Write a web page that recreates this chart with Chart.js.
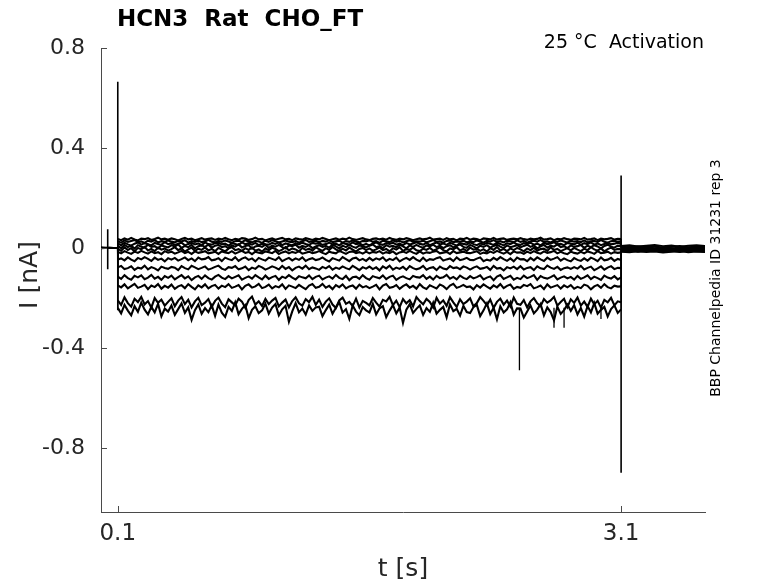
<!DOCTYPE html>
<html><head><meta charset="utf-8">
<script src="https://cdn.jsdelivr.net/npm/chart.js@4.4.1/dist/chart.umd.min.js"></script>
<style>html,body{margin:0;padding:0;background:#fff}canvas{display:block}</style>
</head><body>
<canvas id="c" width="778" height="583" style="width:778px;height:583px"></canvas>
<script>
const titleText = 'HCN3  Rat  CHO_FT';
const conditionText = '25 °C  Activation';
const sideText = 'BBP Channelpedia ID 31231 rep 3';
const xLabel = 't [s]';
const yLabel = 'I [nA]';
const xTicks = [0.1, 3.1];
const yTicks = [0.8, 0.4, 0, -0.4, -0.8];
const xRange = [0, 3.6];
const yRange = [-1.057, 0.8];

// sampling grids (seconds)
const preTimes = [0, 0.05, 0.099];
const pulseStart = 0.1, pulseStep = 0.02;
const tailStart = 3.1, tailStep = 0.05;
const PA_PER_NA = 1000; // traces below are stored in pA

// holding current before the step (pA)
const pre1 = [3,1,2], pre2 = [1,2,0], pre3 = [0,-1,1], pre4 = [-1,0,-2];
const pre5 = [2,0,1], pre6 = [-2,-1,0], pre7 = [1,-2,-1], pre8 = [0,1,-1];
const pre9 = [-1,2,0], pre10 = [2,-1,1], pre11 = [-3,-1,-2], pre12 = [1,0,-1];

// currents during the 3 s step (pA)
const trace1 = [36,31,38,33,40,34,30,37,35,39,32,36,41,34,37,
33,38,35,30,36,40,34,37,31,35,39,33,36,38,32,
37,34,40,35,31,36,33,39,37,32,35,41,34,36,30,
35,38,33,37,40,34,36,31,38,35,33,39,36,32,37,
34,40,36,31,35,38,33,37,34,41,35,32,36,39,34,
31,36,38,34,37,33,40,35,32,37,34,39,36,31,35,
38,34,36,41,33,35,37,32,39,34,36,30,37,35,40,
33,37,35,31,38,36,34,40,33,36,38,32,35,37,34,
39,35,32,37,34,36,41,33,35,38,31,36,34,39,35,
32,37,36,34,40,33,35,38,31,37,34,36,39,33,36,35];
const trace2 = [27,21,30,24,28,32,23,26,20,29,25,31,22,27,24,
30,25,22,28,26,31,21,27,24,29,23,26,32,25,22,
28,24,30,26,21,27,29,23,31,25,22,28,26,20,29,
24,31,27,22,26,30,25,23,28,21,27,32,24,26,29,
22,28,25,31,23,26,29,21,27,24,30,25,22,28,26,
31,24,27,20,29,26,23,30,25,28,22,27,31,24,26,
25,29,22,27,32,24,26,21,28,30,23,26,25,29,22,
27,23,30,26,21,28,25,31,24,27,22,29,26,23,30,
24,28,21,27,29,25,32,23,26,22,28,24,30,26,21,
29,25,27,23,30,22,26,28,24,31,25,21,27,29,24,26];
const trace3 = [18,11,21,14,9,17,22,13,19,15,10,20,16,12,23,
15,19,12,17,21,10,16,20,14,18,11,22,15,13,19,
21,14,17,9,19,16,12,22,15,18,13,20,11,17,14,
13,20,16,22,11,18,15,10,19,14,21,16,12,20,17,
19,12,15,21,14,17,10,20,16,13,22,15,18,11,16,
10,18,22,15,12,19,16,21,13,17,11,20,14,18,23,
16,13,20,11,17,22,14,18,12,21,15,9,19,16,13,
22,15,11,18,14,20,17,12,21,16,10,19,15,22,14,
12,19,16,21,13,17,10,20,15,18,23,14,16,11,20,
17,14,21,12,19,15,22,13,18,11,16,20,14,17,21,15];
const trace4 = [8,-1,12,3,9,-3,11,5,1,13,4,7,-2,10,6,
2,11,5,14,0,8,3,12,-2,7,10,4,13,1,9,
12,3,7,-1,10,5,14,2,8,11,-3,6,9,4,13,
0,9,5,12,3,-2,10,7,13,1,8,4,11,-1,6,
11,4,8,1,13,6,-3,9,3,12,5,0,10,7,2,
9,14,3,7,-1,11,5,8,2,13,6,-2,10,4,12,
5,1,10,6,13,3,9,-1,7,11,2,8,14,4,0,
12,6,-2,9,4,11,1,8,13,5,-1,10,3,7,11,
2,8,13,4,10,-2,6,12,1,9,5,14,3,7,-1,
10,4,7,12,0,9,3,11,6,-2,8,13,5,1,9,6];
const trace5 = [-3,-12,2,-8,-1,-14,0,-6,4,-10,-4,-13,1,-7,-2,
-11,-5,3,-9,-2,-15,-6,1,-12,-3,-8,2,-10,-4,-13,
0,-7,-14,-3,3,-9,-5,-12,-1,-8,2,-11,-6,-15,-2,
-9,1,-4,-13,-7,3,-10,-2,-6,-14,0,-8,-3,-11,2,
-5,-12,-1,-8,4,-6,-13,-3,-10,1,-7,-15,-4,0,-9,
-2,-11,-6,2,-9,-4,-14,-1,-7,3,-12,-5,-8,1,-10,
-13,-3,-8,0,-11,-5,2,-9,-14,-2,-6,3,-10,-4,-12,
1,-7,-3,-12,-5,-15,-1,-8,4,-10,-4,-13,-2,-9,0,
-6,-14,-2,-9,1,-11,-5,-3,-12,2,-8,-4,-13,-7,-1,
-10,0,-7,-13,-3,-9,3,-6,-11,-2,-14,-5,1,-8,-4,-6];
const trace6 = [-16,-22,-13,-19,-24,-15,-20,-12,-18,-23,-14,-21,-17,-25,-13,
-19,-15,-23,-18,-12,-21,-16,-24,-14,-20,-17,-13,-22,-19,-15,
-24,-14,-18,-21,-13,-23,-17,-12,-20,-16,-25,-15,-19,-22,-14,
-17,-21,-12,-24,-18,-14,-22,-16,-20,-13,-23,-19,-15,-21,-18,
-13,-20,-25,-15,-19,-22,-12,-18,-24,-16,-14,-21,-17,-23,-15,
-22,-16,-19,-13,-23,-17,-21,-14,-25,-18,-15,-20,-12,-19,-24,
-14,-23,-18,-20,-15,-12,-22,-19,-16,-24,-13,-21,-18,-15,-20,
-21,-17,-13,-24,-19,-22,-15,-20,-12,-18,-23,-16,-25,-14,-19,
-18,-24,-15,-21,-13,-19,-23,-14,-20,-17,-12,-22,-16,-21,-25,
-15,-20,-23,-16,-22,-14,-18,-24,-13,-21,-19,-15,-23,-17,-20,-18];
const trace7 = [-46,-42,-50,-38,-47,-53,-40,-46,-37,-44,-52,-39,-48,-43,-54,-41,
-47,-40,-51,-45,-38,-49,-42,-53,-39,-46,-44,-37,-50,-47,-41,
-53,-39,-45,-49,-37,-52,-43,-38,-48,-42,-54,-40,-46,-51,-39,
-44,-49,-37,-53,-46,-40,-50,-42,-48,-38,-52,-45,-41,-49,-46,
-38,-48,-54,-41,-46,-51,-37,-45,-53,-42,-39,-50,-44,-52,-40,
-50,-42,-47,-38,-52,-44,-49,-39,-54,-46,-40,-48,-37,-47,-53,
-39,-52,-45,-48,-41,-37,-51,-46,-42,-53,-38,-49,-45,-40,-48,
-49,-43,-38,-53,-47,-51,-40,-48,-37,-45,-52,-42,-54,-39,-46,
-45,-53,-40,-50,-38,-46,-52,-39,-48,-43,-37,-51,-42,-49,-54,
-41,-48,-52,-42,-51,-39,-45,-53,-38,-50,-47,-40,-52,-44,-48];
const trace8 = [-78,-72,-85,-81,-74,-88,-79,-83,-71,-86,-77,-82,-90,-75,-80,
-84,-76,-79,-89,-73,-81,-86,-72,-78,-85,-80,-74,-87,-82,-76,
-71,-83,-88,-77,-80,-73,-86,-82,-75,-89,-79,-84,-72,-78,-87,
-81,-74,-79,-86,-72,-84,-77,-90,-80,-75,-83,-71,-85,-78,-82,
-88,-76,-82,-73,-87,-79,-84,-74,-81,-86,-72,-80,-89,-77,-83,
-75,-85,-78,-90,-74,-82,-71,-87,-79,-84,-76,-88,-73,-81,-86,
-82,-72,-87,-80,-77,-89,-75,-83,-86,-73,-81,-78,-85,-74,-79,
-87,-79,-74,-84,-81,-76,-88,-72,-83,-80,-90,-77,-82,-75,-85,
-73,-86,-80,-77,-89,-74,-82,-85,-71,-79,-84,-76,-88,-81,-78,
-84,-77,-83,-72,-86,-80,-75,-89,-82,-74,-87,-79,-73,-85,-80,-81];
const trace9 = [-115,-124,-109,-121,-127,-112,-118,-110,-125,-119,-108,-123,-116,-128,-113,
-120,-111,-126,-117,-109,-122,-114,-129,-118,-112,-124,-110,-121,-127,-115,
-108,-119,-125,-113,-122,-116,-110,-127,-120,-114,-123,-109,-118,-126,-111,
-124,-117,-112,-128,-115,-121,-109,-119,-126,-113,-118,-122,-110,-125,-116,
-111,-126,-119,-114,-123,-108,-120,-125,-112,-129,-117,-115,-124,-109,-121,
-127,-113,-118,-122,-110,-125,-116,-111,-128,-119,-114,-121,-126,-112,-117,
-119,-109,-124,-115,-127,-112,-121,-118,-108,-123,-116,-126,-111,-120,-125,
-113,-122,-117,-110,-126,-119,-114,-129,-115,-109,-124,-118,-112,-127,-120,
-125,-111,-121,-116,-109,-128,-113,-120,-123,-117,-110,-126,-119,-114,-122,
-116,-127,-112,-124,-118,-110,-125,-115,-121,-128,-111,-119,-123,-113,-126,-118];
const trace10 = [-150,-158,-146,-162,-153,-144,-160,-155,-148,-165,-151,-157,-145,-163,-152,
-159,-147,-164,-154,-149,-161,-145,-156,-166,-150,-158,-146,-162,-153,-148,
-163,-151,-157,-145,-160,-155,-149,-166,-152,-146,-159,-154,-144,-161,-156,
-147,-162,-153,-158,-146,-164,-150,-155,-161,-148,-157,-165,-151,-145,-160,
-156,-144,-159,-152,-165,-149,-157,-146,-162,-154,-150,-163,-147,-158,-153,
-161,-155,-148,-166,-151,-145,-160,-157,-149,-164,-153,-146,-159,-152,-163,
-145,-158,-164,-150,-156,-162,-147,-153,-165,-151,-144,-160,-155,-148,-157,
-154,-166,-149,-159,-146,-155,-163,-150,-158,-145,-161,-152,-147,-164,-156,
-160,-148,-153,-145,-162,-157,-151,-165,-146,-159,-154,-149,-163,-150,-158,
-149,-163,-156,-161,-147,-152,-166,-154,-148,-160,-145,-157,-162,-151,-155,-154];
const trace11 = [-210,-228,-198,-221,-235,-204,-217,-196,-226,-213,-239,-201,-220,-207,-231,
-216,-202,-233,-211,-197,-225,-208,-238,-214,-200,-229,-219,-205,-236,-212,
-199,-223,-237,-206,-218,-230,-203,-215,-240,-209,-195,-227,-214,-232,-204,
-225,-211,-200,-234,-219,-207,-238,-213,-198,-222,-231,-205,-217,-196,-228,
-207,-236,-215,-202,-227,-240,-210,-199,-224,-216,-233,-203,-238,-212,-220,
-230,-201,-219,-235,-208,-214,-196,-229,-211,-237,-205,-222,-209,-234,-197,
-213,-226,-204,-216,-239,-200,-223,-210,-232,-198,-218,-236,-206,-225,-215,
-202,-234,-221,-197,-212,-229,-207,-240,-216,-203,-227,-211,-235,-199,-224,
-228,-209,-238,-214,-201,-222,-233,-205,-219,-210,-196,-231,-217,-204,-237,
-206,-220,-199,-231,-215,-236,-203,-226,-212,-239,-208,-218,-200,-230,-214,-218];
const trace12 = [-240,-262,-228,-251,-270,-233,-256,-219,-247,-266,-236,-258,-224,-274,-243,
-255,-231,-268,-245,-222,-260,-238,-288,-249,-226,-264,-241,-257,-230,-272,
-227,-259,-276,-236,-252,-218,-265,-244,-229,-281,-248,-234,-261,-250,-223,
-263,-239,-225,-270,-246,-232,-295,-254,-221,-258,-243,-267,-230,-252,-238,
-235,-273,-249,-227,-264,-240,-216,-259,-245,-284,-231,-255,-269,-237,-250,
-258,-224,-266,-242,-233,-277,-251,-229,-262,-239,-300,-247,-225,-260,-244,
-230,-268,-241,-256,-220,-263,-248,-236,-278,-226,-253,-244,-271,-232,-257,
-261,-237,-228,-273,-250,-222,-265,-240,-286,-234,-259,-246,-218,-267,-242,
-243,-279,-255,-231,-262,-247,-225,-270,-238,-257,-290,-235,-264,-249,-227,
-252,-229,-266,-241,-275,-233,-258,-221,-263,-248,-236,-274,-245,-230,-260,-246];

// tail currents after the step (pA)
const tail1 = [8,11,6,9,12,7,10,5,9,11,8];
const tail2 = [5,3,7,4,6,2,5,8,3,6,4];
const tail3 = [2,4,0,3,-1,2,5,1,3,0,2];
const tail4 = [-1,1,-3,0,-2,2,-1,-4,0,-2,1];
const tail5 = [-3,-5,-2,-6,-3,-1,-4,-6,-2,-5,-3];
const tail6 = [-5,-3,-7,-4,-8,-5,-2,-6,-4,-7,-5];
const tail7 = [-7,-9,-5,-8,-6,-10,-7,-4,-8,-6,-9];
const tail8 = [-9,-6,-10,-8,-11,-7,-9,-12,-8,-10,-7];
const tail9 = [-10,-12,-8,-11,-9,-13,-10,-8,-12,-9,-11];
const tail10 = [-12,-10,-14,-11,-13,-9,-12,-15,-11,-13,-10];
const tail11 = [-14,-12,-16,-13,-11,-15,-13,-17,-12,-14,-16];
const tail12 = [-16,-18,-14,-17,-15,-19,-16,-13,-18,-15,-17];

// capacitive transients (s, nA)
const transientTimes = [0.04, 0.1, 3.1];
const transientHigh = [0.075, 0.665, 0.29];
const transientLow = [-0.085, -0.25, -0.90];
// brief downward glitches (s, nA)
const glitchTimes = [2.494, 2.70, 2.76, 2.98];
const glitchBase = [-0.24, -0.24, -0.24, -0.23];
const glitchLow = [-0.49, -0.32, -0.32, -0.285];

const preSets = [pre1,pre2,pre3,pre4,pre5,pre6,pre7,pre8,pre9,pre10,pre11,pre12];
const pulseSets = [trace1,trace2,trace3,trace4,trace5,trace6,trace7,trace8,trace9,trace10,trace11,trace12];
const tailSets = [tail1,tail2,tail3,tail4,tail5,tail6,tail7,tail8,tail9,tail10,tail11,tail12];

const FONT = "'DejaVu Sans', sans-serif";
const segWidth = c => {
  const x0 = c.p0.parsed.x, x1 = c.p1.parsed.x;
  if (x1 === x0) return 1;            // vertical jumps at step edges
  if (x0 >= tailStart) return 1.8;    // tail after the step
  if (x0 >= pulseStart) return 2.1;   // during the step
  return 1.3;                         // holding before the step
};
const datasets = [];
pulseSets.forEach((pulse, k) => {
  const pts = [];
  preSets[k].forEach((v, i) => pts.push({x: preTimes[i], y: v / PA_PER_NA}));
  pulse.forEach((v, i) => pts.push({x: pulseStart + i * pulseStep, y: v / PA_PER_NA}));
  tailSets[k].forEach((v, j) => pts.push({x: tailStart + j * tailStep, y: v / PA_PER_NA}));
  datasets.push({data: pts, borderColor: '#000', borderWidth: 1, pointRadius: 0, tension: 0, fill: false,
    segment: {borderWidth: segWidth}});
});
transientTimes.forEach((t, i) => {
  datasets.push({data: [{x: t, y: transientHigh[i]}, {x: t, y: transientLow[i]}],
    borderColor: '#000', borderWidth: 1.6, pointRadius: 0, fill: false});
});
glitchTimes.forEach((t, i) => {
  datasets.push({data: [{x: t, y: glitchBase[i]}, {x: t, y: glitchLow[i]}],
    borderColor: '#000', borderWidth: 1.3, pointRadius: 0, fill: false});
});

const AXIS = '#4a4a4a';
const decor = {
  id: 'decor',
  afterDraw(chart) {
    const ctx = chart.ctx, xs = chart.scales.x, ys = chart.scales.y, a = chart.chartArea;
    ctx.save();
    ctx.strokeStyle = AXIS; ctx.lineWidth = 1;
    ctx.beginPath();
    yTicks.forEach(v => { const p = Math.round(ys.getPixelForValue(v)) + 0.5; ctx.moveTo(a.left, p); ctx.lineTo(a.left + 6, p); });
    xTicks.forEach(v => { const p = Math.round(xs.getPixelForValue(v)) + 0.5; ctx.moveTo(p, a.bottom); ctx.lineTo(p, a.bottom - 6); });
    ctx.stroke();
    ctx.fillStyle = '#000';
    ctx.font = 'bold 23px ' + FONT; ctx.textAlign = 'center'; ctx.textBaseline = 'alphabetic';
    ctx.fillText(titleText, 240, 26);
    ctx.font = '19px ' + FONT; ctx.textAlign = 'right';
    ctx.fillText(conditionText, 704, 48);
    ctx.fillStyle = '#262626';
    ctx.font = '25px ' + FONT; ctx.textAlign = 'center';
    ctx.fillText(xLabel, 403, 576);
    ctx.save(); ctx.translate(37, 275); ctx.rotate(-Math.PI / 2); ctx.fillText(yLabel, 0, 0); ctx.restore();
    ctx.fillStyle = '#000';
    ctx.font = '14px ' + FONT;
    ctx.save(); ctx.translate(720, 278); ctx.rotate(-Math.PI / 2); ctx.fillText(sideText, 0, 0); ctx.restore();
    ctx.restore();
  }
};

new Chart(document.getElementById('c'), {
  type: 'line',
  data: {datasets},
  options: {
    responsive: false, animation: false, devicePixelRatio: 1,
    layout: {padding: {left: 0, right: 73, top: 48, bottom: 0}},
    plugins: {legend: {display: false}, tooltip: {enabled: false}, title: {display: false}},
    scales: {
      x: {
        type: 'linear', min: xRange[0], max: xRange[1],
        afterBuildTicks: s => { s.ticks = xTicks.map(v => ({value: v})); },
        afterFit: s => { s.height = 71; },
        ticks: {font: {family: FONT, size: 23}, color: '#262626', padding: 8, maxRotation: 0, autoSkip: false,
          callback: v => String(v)},
        grid: {display: true, drawOnChartArea: false, drawTicks: false},
        border: {display: true, color: AXIS, width: 1}
      },
      y: {
        type: 'linear', min: yRange[0], max: yRange[1],
        afterBuildTicks: s => { s.ticks = yTicks.map(v => ({value: v})); },
        afterFit: s => { s.width = 101; },
        ticks: {font: {family: FONT, size: 22}, color: '#262626', padding: 16, autoSkip: false,
          callback: v => String(v)},
        grid: {display: true, drawOnChartArea: false, drawTicks: false},
        border: {display: true, color: AXIS, width: 1}
      }
    }
  },
  plugins: [decor]
});
</script>
</body></html>
